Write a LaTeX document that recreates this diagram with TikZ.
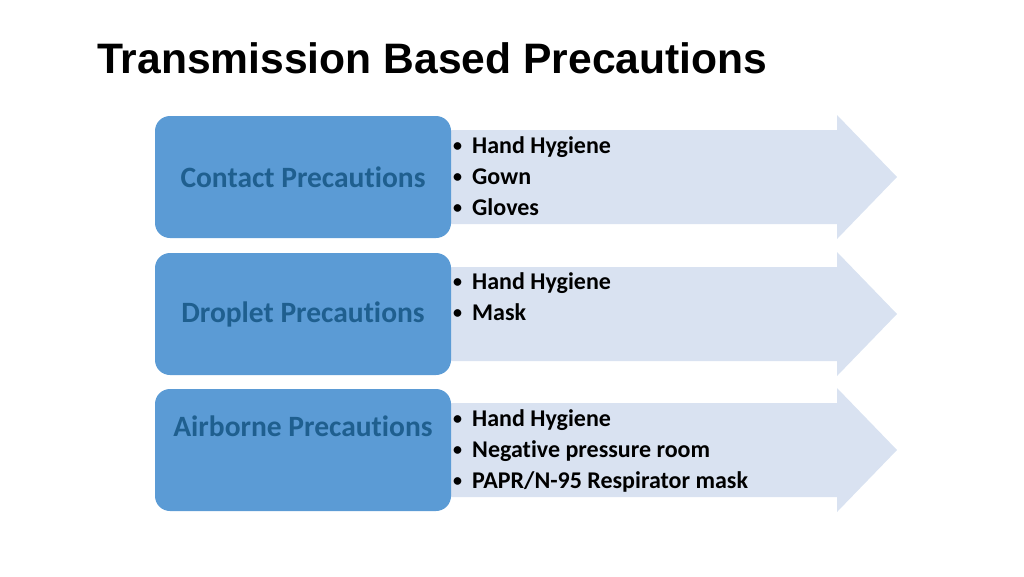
\documentclass[tikz,border=0pt]{standalone}
\usepackage{fontspec}
\setmainfont{Carlito}[Ligatures=NoCommon]
\newfontfamily\titlefont{Liberation Sans}
\usetikzlibrary{positioning}
\definecolor{boxblue}{HTML}{5B9BD5}
\definecolor{labelblue}{HTML}{1F5F8F}
\definecolor{arrowfill}{HTML}{D9E2F1}
\newcommand{\itm}[1]{\makebox[19pt][l]{\raisebox{1.5pt}{\fontsize{18}{18}\selectfont\textbullet}}#1}

\begin{document}
\begin{tikzpicture}[x=1pt, y=1pt]
	\tikzstyle{catbox} = [fill=boxblue, rounded corners=15pt, minimum width=296pt, minimum height=122pt, inner sep=0pt]
	\tikzstyle{catlabel} = [text=labelblue, inner sep=0pt, font=\fontsize{29.5}{34}\selectfont\bfseries]
	\tikzstyle{items} = [anchor=base west, align=left, inner sep=0pt, font=\fontsize{24}{31}\selectfont\bfseries]
	\tikzstyle{bigarrow} = [fill=arrowfill]
	\useasboundingbox (0,0) rectangle (1024,-576);
	\node[anchor=base west, inner sep=0pt, font=\titlefont\fontsize{42.6}{50}\selectfont\bfseries] (title) at (97,-73) {Transmission Based Precautions};
	\begin{scope}[yshift=-177pt]
	  \fill[bigarrow] (449,47) -- (837,47) -- (837,62) -- (897,0) -- (837,-62) -- (837,-47) -- (449,-47) -- cycle;
	  \node[catbox] (contact) at (303,0) {};
	  \node[catlabel] (contactlbl) at (contact.center) {Contact Precautions};
	  \node[items] (contactlist) at (453,-38) {\itm{Hand Hygiene}\\ \itm{Gown}\\ \itm{Gloves}};
	\end{scope}
	\begin{scope}[yshift=-314pt]
	  \fill[bigarrow] (449,47) -- (837,47) -- (837,62) -- (897,0) -- (837,-62) -- (837,-47) -- (449,-47) -- cycle;
	  \node[catbox] (droplet) at (303,0) {};
	  \node[catlabel] (dropletlbl) at (droplet.center) {Droplet Precautions};
	  \node[items] (dropletlist) at (453,-6) {\itm{Hand Hygiene}\\ \itm{Mask}};
	\end{scope}
	\begin{scope}[yshift=-450pt]
	  \fill[bigarrow] (449,47) -- (837,47) -- (837,62) -- (897,0) -- (837,-62) -- (837,-47) -- (449,-47) -- cycle;
	  \node[catbox] (airborne) at (303,0) {};
	  \node[catlabel] (airbornelbl) at ([yshift=24pt]airborne.center) {Airborne Precautions};
	  \node[items] (airbornelist) at (453,-38) {\itm{Hand Hygiene}\\ \itm{Negative pressure room}\\ \itm{PAPR/N-95 Respirator mask}};
	\end{scope}
\end{tikzpicture}
\end{document}
